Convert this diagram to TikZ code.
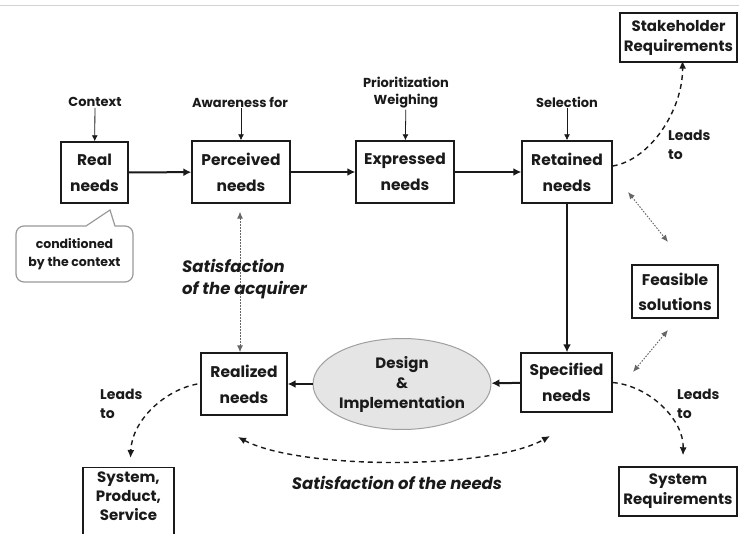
\documentclass[tikz,border=0pt]{standalone}
\usepackage{fontspec}
\setmainfont{Poppins}
\usetikzlibrary{shapes.geometric,arrows.meta}
\definecolor{ink}{HTML}{1A1A1A}
\begin{document}
\begin{tikzpicture}[x=1pt,y=-1pt,
  needbox/.style={draw=ink, line width=1.4pt, align=center, inner sep=0pt, text=ink,
     font=\bfseries\fontsize{15.5}{26}\selectfont},
  outbox/.style={draw=ink, line width=1.4pt, align=center, inner sep=0pt, text=ink,
     font=\bfseries\fontsize{15}{20}\selectfont},
  lbl/.style={align=center, inner sep=1pt, text=ink, font=\bfseries\fontsize{13}{17}\selectfont},
  leads/.style={align=left, inner sep=0pt, text=ink, font=\bfseries\fontsize{14}{19}\selectfont},
  thinarrow/.style={draw=ink, line width=0.8pt, -{Latex[length=6pt,width=6pt]}},
  mainarrow/.style={draw=ink, line width=2pt, -{Latex[length=8pt,width=8pt]}},
  dasharrow/.style={draw=ink, line width=1.4pt, dash pattern=on 5pt off 4pt, -{Latex[length=8pt,width=7pt]}},
  dotarrow/.style={draw=gray!80!black, line width=1pt, dash pattern=on 1.5pt off 1.5pt, {Latex[length=7pt,width=6pt]}-{Latex[length=7pt,width=6pt]}},
  sat/.style={text=ink, inner sep=0pt, font=\bfseries\itshape\fontsize{16.5}{22}\selectfont}]
\useasboundingbox (0,0) rectangle (739,534);
\draw[gray!35, line width=1pt] (0,6) -- (739,6);

% top row
\node[needbox, minimum width=67, minimum height=61] (real) at (94.5,172.5) {Real\\needs};
\node[needbox, minimum width=98, minimum height=62] (perc) at (241,172) {Perceived\\needs};
\node[needbox, minimum width=98, minimum height=62] (expr) at (405,172) {Expressed\\needs};
\node[needbox, minimum width=90, minimum height=62] (ret) at (567,172) {Retained\\needs};

\node[lbl] (ctx) at (95,102) {Context};
\node[lbl] (aw) at (240,102) {Awareness for};
\node[lbl] (prio) at (406,93) {Prioritization\\Weighing};
\node[lbl] (sel) at (567,102) {Selection};

\draw[thinarrow] (ctx) -- (real);
\draw[thinarrow] (aw.south -| perc.north) -- (perc);
\draw[thinarrow] (prio) -- (expr);
\draw[thinarrow] (sel) -- (ret);

\draw[mainarrow] (real) -- (perc);
\draw[mainarrow] (perc) -- (expr);
\draw[mainarrow] (expr) -- (ret);

% bottom row
\node[needbox, minimum width=91, minimum height=59] (spec) at (566.5,382.5) {Specified\\needs};
\node[needbox, minimum width=86, minimum height=62] (real2) at (244,384) {Realized\\needs};
\node[ellipse, draw=gray!75, line width=1pt, fill=gray!20, minimum width=174, minimum height=91,
      inner sep=0pt, align=center, text=ink, font=\bfseries\fontsize{15}{20}\selectfont] (des) at (402,384) {Design\\\&\\Implementation};

\draw[mainarrow] (ret.south) -- (ret.south |- spec.north);
\draw[mainarrow] (spec) -- (des);
\draw[mainarrow] (des) -- (real2);

% outcome boxes
\node[outbox, minimum width=117, minimum height=49] (stake) at (678.5,37.5) {Stakeholder\\Requirements};
\node[outbox, minimum width=86, minimum height=53, font=\bfseries\fontsize{15.5}{25}\selectfont] (feas) at (675,291.5) {Feasible\\solutions};
\node[outbox, minimum width=118, minimum height=49] (sysreq) at (678,491.5) {System\\Requirements};
\node[outbox, minimum width=91, minimum height=82, anchor=north, font=\bfseries\fontsize{15}{19}\selectfont] (sps) at (128.5,467) {System,\\Product,\\Service\\[6pt]};

% leads to curves
\draw[dasharrow] ([yshift=6pt]ret.east) .. controls (650,160) and (683,110) .. ([xshift=4pt,yshift=2pt]stake.south);
\node[leads, anchor=north west] (l1) at (668,130) {Leads\\to};

\draw[dasharrow] ([xshift=-3pt]real2.west) .. controls (165,390) and (132,420) .. ([xshift=2pt,yshift=9pt]sps.north);
\node[leads, anchor=north west] (l2) at (100,389) {Leads\\to};

\draw[dasharrow] (spec.east) .. controls (650,386) and (684,420) .. ([xshift=5pt,yshift=11pt]sysreq.north);
\node[leads, anchor=north west] (l3) at (677,389) {Leads\\to};

% dotted relations
\coordinate (f1) at (628,192);
\coordinate (f2) at (668,242);
\coordinate (f3) at (668,330);
\coordinate (f4) at (633,372);
\draw[dotarrow] (f1) -- (f2);
\draw[dotarrow] (f3) -- (f4);
\draw[dotarrow] ([yshift=-8pt]perc.south -| 240,0) -- (real2.north -| 240,0);

% satisfaction of the needs
\coordinate (sn1) at (238,437);
\coordinate (sn2) at (550,436);
\draw[draw=ink, line width=1.4pt, dash pattern=on 5pt off 4pt, {Latex[length=8pt,width=7pt]}-{Latex[length=8pt,width=7pt]}]
  (sn1) .. controls (300,470) and (490,470) .. (sn2);
\node[sat] (satn) at (397,483) {Satisfaction of the needs};
\node[sat, align=left, anchor=north west] (sata) at (182,259) {Satisfaction\\of the acquirer};

% callout
\draw[gray!80, line width=1.2pt, fill=white] (86,226) -- (110,210) -- (115,226)
  [rounded corners=8pt] -- (133,226) -- (133,282) -- (16,282) -- (16,226) [sharp corners] -- cycle;
\node[align=center, text=ink, inner sep=0pt, font=\bfseries\fontsize{12.5}{18}\selectfont] (cond) at (74.5,254) {conditioned\\by the context};
\end{tikzpicture}
\end{document}
